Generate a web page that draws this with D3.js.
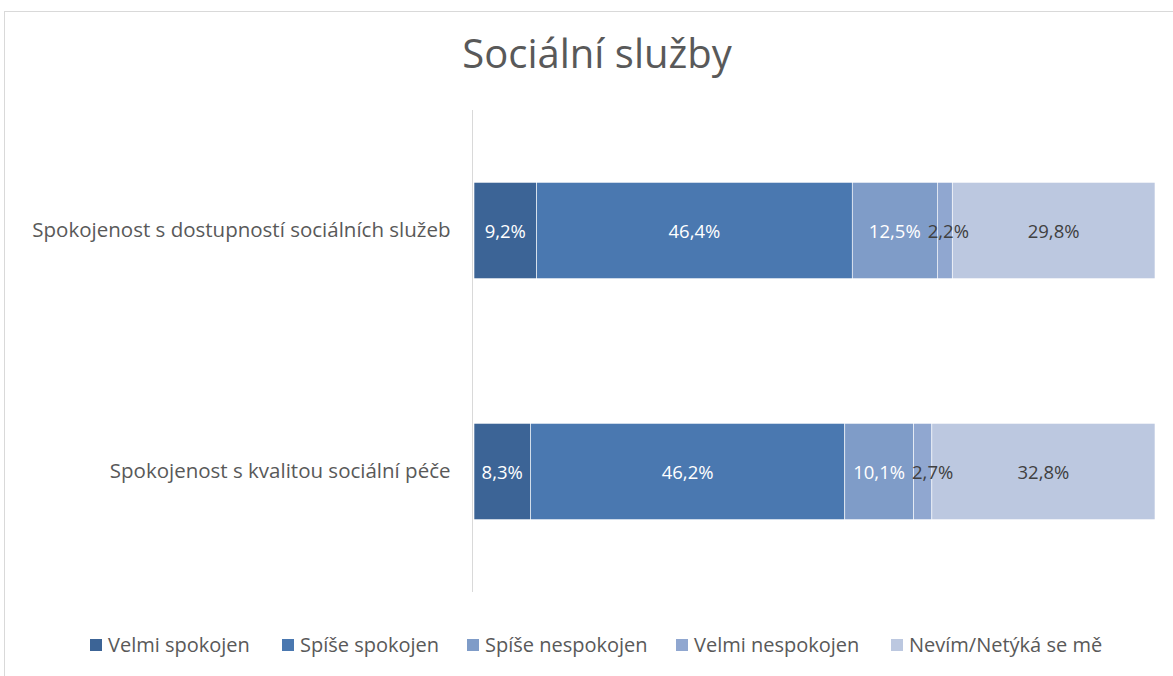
<!DOCTYPE html>
<html>
  <head>
    <meta charset="utf-8">
    <script src="https://d3js.org/d3.v7.min.js"></script>
    <style>
      body { margin: 0; background: #fff; }
      text { font-family: "Open Sans", sans-serif; }
    </style>
  </head>
  <body>
    <script>

const categories = [
  "Spokojenost s dostupností sociálních služeb",
  "Spokojenost s kvalitou sociální péče"
];
const seriesNames = ["Velmi spokojen", "Spíše spokojen", "Spíše nespokojen", "Velmi nespokojen", "Nevím/Netýká se mě"];
const seriesColors = ["#3c6496", "#4a78b0", "#7f9cc8", "#90a7d0", "#bcc8e0"];
const labelColors = ["#fff", "#fff", "#fff", "#404040", "#404040"];
const values = [
  [9.2, 46.4, 12.5, 2.2, 29.8],
  [8.3, 46.2, 10.1, 2.7, 32.8]
];

const width = 1173;
const height = 676;

const svg = d3.select("body").append("svg")
    .attr("width", width)
    .attr("height", height);

// chart area border
svg.append("rect")
    .attr("x", 4.5).attr("y", 11.5)
    .attr("width", 1200).attr("height", 700)
    .attr("fill", "#fff")
    .attr("stroke", "#d9d9d9");

svg.append("text")
    .attr("x", 597)
    .attr("y", 68)
    .attr("text-anchor", "middle")
    .attr("font-size", 40)
    .attr("fill", "#595959")
    .text("Sociální služby");

const x = d3.scaleLinear().domain([0, 100.1]).range([474, 1155]);
const y = d3.scaleBand().domain(categories).range([110, 592]).paddingInner(0.6).paddingOuter(0.3);

const rows = categories.map((c, i) => {
  let acc = 0;
  return values[i].map((v, j) => {
    const d = { cat: c, s: j, v: v, x0: acc, x1: acc + v };
    acc += v;
    return d;
  });
});

const row = svg.selectAll("g.row")
  .data(rows)
  .enter().append("g")
    .attr("class", "row");

row.selectAll("rect")
  .data(d => d)
  .enter().append("rect")
    .attr("x", d => x(d.x0))
    .attr("y", d => y(d.cat))
    .attr("width", d => x(d.x1) - x(d.x0))
    .attr("height", y.bandwidth())
    .attr("fill", d => seriesColors[d.s])
    .attr("stroke", "#fff")
    .attr("stroke-width", 0.6);

row.selectAll("text")
  .data(d => d)
  .enter().append("text")
    .attr("x", d => (x(d.x0) + x(d.x1)) / 2)
    .attr("y", d => y(d.cat) + y.bandwidth() / 2 + 7)
    .attr("text-anchor", "middle")
    .attr("font-size", 18.5)
    .attr("fill", d => labelColors[d.s])
    .text(d => d.v.toFixed(1).replace(".", ","))
    .append("tspan").text("%");

// push labels of thin segments to the right so they don't collide
row.each(function() {
  let lastRight = -Infinity;
  d3.select(this).selectAll("text").each(function() {
    const b = this.getBBox();
    if (b.x < lastRight + 7) {
      const shift = lastRight + 7 - b.x;
      d3.select(this).attr("x", +d3.select(this).attr("x") + shift);
      lastRight = b.x + b.width + shift;
    } else {
      lastRight = b.x + b.width;
    }
  });
});

// vertical axis
const yAxis = svg.append("g")
    .attr("transform", `translate(${x(0) - 1.5},0)`)
    .call(d3.axisLeft(y).tickSize(0).tickPadding(22));
yAxis.select(".domain").attr("stroke", "#d9d9d9").attr("d", "M0,110V592");
yAxis.selectAll("text")
    .attr("font-size", 20.5)
    .attr("fill", "#595959")
    .attr("font-family", "Open Sans, sans-serif");

// legend
const legendX = [90, 282, 467, 676, 891];
const legend = svg.selectAll("g.legend")
  .data(seriesNames)
  .enter().append("g")
    .attr("class", "legend")
    .attr("transform", (d, i) => `translate(${legendX[i]},645)`);
legend.append("rect")
    .attr("x", 0).attr("y", -6)
    .attr("width", 12).attr("height", 12)
    .attr("fill", (d, i) => seriesColors[i]);
legend.append("text")
    .attr("x", 18).attr("y", 7)
    .attr("font-size", 20)
    .attr("fill", "#595959")
    .text(d => d);

    </script>
  </body>
</html>
